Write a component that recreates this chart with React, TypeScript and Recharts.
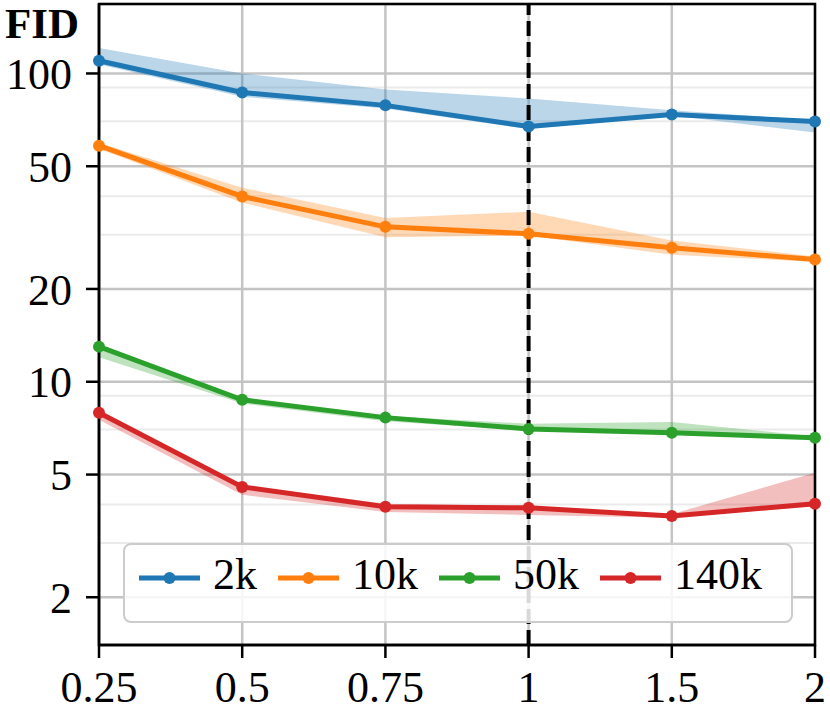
import React from 'react';
import {
  ComposedChart,
  Line,
  Area,
  XAxis,
  YAxis,
  CartesianGrid,
  ReferenceLine,
  ReferenceArea,
} from 'recharts';

// x categories (evenly spaced on the axis)
const categories = ['0.25', '0.5', '0.75', '1', '1.5', '2'];

// FID per dataset size, with the shaded min/max band
const fid2k = [110, 86.8, 78.8, 67.3, 73.6, 69.8];
const fid2kLow = [107, 84, 77, 66, 73, 64.3];
const fid2kHigh = [121, 100, 88.7, 83, 76, 70.5];

const fid10k = [58.3, 39.9, 31.8, 30.2, 27.2, 24.9];
const fid10kLow = [57, 38.1, 29.4, 29.8, 25.8, 24.5];
const fid10kHigh = [59.5, 42.6, 34.0, 35.6, 28.7, 25.5];

const fid50k = [13.0, 8.74, 7.65, 7.03, 6.83, 6.58];
const fid50kLow = [12.0, 8.5, 7.45, 6.95, 6.75, 6.5];
const fid50kHigh = [13.2, 8.85, 7.75, 7.31, 7.41, 6.65];

const fid140k = [7.93, 4.56, 3.93, 3.9, 3.67, 4.02];
const fid140kLow = [7.53, 4.3, 3.78, 3.7, 3.62, 3.95];
const fid140kHigh = [8.0, 4.62, 4.02, 3.95, 3.72, 5.07];

const majorTicks = [2, 5, 10, 20, 50, 100];
const minorTicks = [3, 4, 6, 7, 8, 9, 30, 40, 60, 70, 80, 90];
const yDomain: [number, number] = [1.4, 168];

const series = [
  { key: 's2k', name: '2k', color: '#1f77b4', mid: fid2k, lo: fid2kLow, hi: fid2kHigh },
  { key: 's10k', name: '10k', color: '#ff7f0e', mid: fid10k, lo: fid10kLow, hi: fid10kHigh },
  { key: 's50k', name: '50k', color: '#2ca02c', mid: fid50k, lo: fid50kLow, hi: fid50kHigh },
  { key: 's140k', name: '140k', color: '#d62728', mid: fid140k, lo: fid140kLow, hi: fid140kHigh },
];

const rows = categories.map((c, i) => {
  const row: Record<string, any> = { x: i, label: c };
  series.forEach((s) => {
    row[s.key] = s.mid[i];
    row[s.key + 'Band'] = [s.lo[i], s.hi[i]];
  });
  return row;
});

const FONT = '"Liberation Serif", "Times New Roman", serif';

function LegendBox() {
  return (
    <div
      style={{
        position: 'absolute',
        left: 123,
        top: 543,
        width: 670,
        height: 80,
        boxSizing: 'border-box',
        border: '2.5px solid #cccccc',
        borderRadius: 8,
        background: 'rgba(255,255,255,0.85)',
        display: 'flex',
        alignItems: 'center',
        paddingLeft: 14,
        paddingBottom: 10,
        fontFamily: FONT,
        fontSize: 44,
        color: '#000',
      }}
    >
      {series.map((s) => (
        <div key={s.key} style={{ display: 'flex', alignItems: 'center', marginRight: 21 }}>
          <svg width={61} height={14} style={{ marginRight: 13 }}>
            <line x1={0} y1={7} x2={61} y2={7} stroke={s.color} strokeWidth={5} />
            <circle cx={30.5} cy={7} r={6} fill={s.color} />
          </svg>
          <span style={{ lineHeight: 1, position: 'relative', top: -3 }}>{s.name}</span>
        </div>
      ))}
    </div>
  );
}

export default function App() {
  return (
    <div
      style={{
        position: 'absolute',
        left: 0,
        top: 0,
        width: 830,
        height: 717,
        background: '#fff',
        fontFamily: FONT,
      }}
    >
      <ComposedChart width={830} height={717} data={rows} margin={{ top: 4, right: 15, bottom: 0, left: 0 }}>
        <CartesianGrid yAxisId="minor" vertical={false} stroke="#ebebeb" strokeWidth={2} />
        <CartesianGrid stroke="#c4c4c4" strokeWidth={2.5} />
        <XAxis
          dataKey="x"
          type="number"
          domain={[0, 5]}
          ticks={[0, 1, 2, 3, 4, 5]}
          tickFormatter={(i: number) => categories[i]}
          height={72}
          tickSize={13}
          tickMargin={13}
          tick={{ fill: '#000', fontSize: 44, fontFamily: FONT }}
          axisLine={{ stroke: '#000', strokeWidth: 2.5 }}
          tickLine={{ stroke: '#000', strokeWidth: 2.5 }}
        />
        <YAxis
          scale="log"
          domain={yDomain}
          allowDataOverflow
          ticks={majorTicks}
          width={99}
          tickSize={13}
          tickMargin={14}
          tick={{ fill: '#000', fontSize: 44, fontFamily: FONT }}
          axisLine={{ stroke: '#000', strokeWidth: 2.5 }}
          tickLine={{ stroke: '#000', strokeWidth: 2.5 }}
        />
        <YAxis yAxisId="minor" hide scale="log" domain={yDomain} allowDataOverflow ticks={minorTicks} />
        {series.map((s) => (
          <Area
            key={s.key + 'Band'}
            dataKey={s.key + 'Band'}
            type="linear"
            stroke="none"
            fill={s.color}
            fillOpacity={0.3}
            legendType="none"
            isAnimationActive={false}
            activeDot={false}
          />
        ))}
        {series.map((s) => (
          <Line
            key={s.key}
            dataKey={s.key}
            name={s.name}
            type="linear"
            stroke={s.color}
            strokeWidth={5}
            dot={{ r: 6, fill: s.color, stroke: s.color, strokeWidth: 0 }}
            activeDot={false}
            isAnimationActive={false}
          />
        ))}
        <ReferenceLine x={3} stroke="#000" strokeWidth={4} strokeDasharray="15 6" />
        <ReferenceArea
          x1={0}
          x2={5}
          y1={yDomain[0]}
          y2={yDomain[1]}
          fill="none"
          fillOpacity={0}
          stroke="#000"
          strokeWidth={2.5}
        />
      </ComposedChart>
      <div
        style={{
          position: 'absolute',
          left: 5,
          top: 2,
          fontFamily: FONT,
          fontWeight: 'bold',
          fontSize: 43,
          lineHeight: '44px',
          color: '#000',
          whiteSpace: 'nowrap',
        }}
      >
        FID
      </div>
      <LegendBox />
    </div>
  );
}
